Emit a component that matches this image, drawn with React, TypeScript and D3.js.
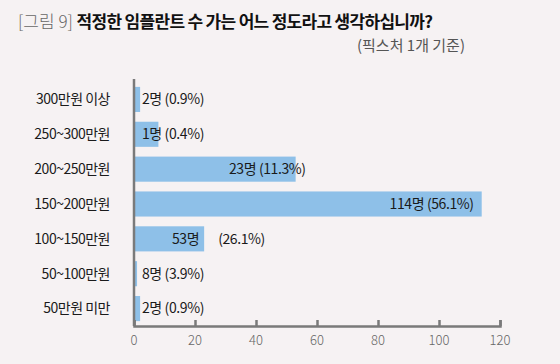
import { useEffect, useRef } from 'react';
import * as d3 from 'd3';

// categories top to bottom
const categories = ['300만원 이상', '250~300만원', '200~250만원', '150~200만원', '100~150만원', '50~100만원', '50만원 미만'];
// bar lengths as drawn in the figure
const barValues = [2, 8, 53, 114, 23, 1, 2];
// label texts as printed
const countLabels = ['2명', '1명', '23명', '114명', '53명', '8명', '2명'];
const pctLabels = ['(0.9%)', '(0.4%)', '(11.3%)', '(56.1%)', '(26.1%)', '(3.9%)', '(0.9%)'];
const xTicks = [0, 20, 40, 60, 80, 100, 120];

const W = 560;
const H = 364;
const FONT = '"Noto Sans CJK KR", "Noto Sans", sans-serif';

export default function App() {
    const ref = useRef<SVGSVGElement | null>(null);

    useEffect(() => {
        if (!ref.current) return;
        const svg = d3.select(ref.current);
        svg.selectAll('*').remove();

        svg.append('rect').attr('width', W).attr('height', H).attr('fill', '#f6f2f3');

        // title
        const title = svg.append('text').attr('x', 18).attr('y', 28).attr('font-family', FONT).attr('font-size', 17);
        title.append('tspan').attr('fill', '#666').attr('font-weight', 300).text('[그림 9] ');
        title
            .append('tspan')
            .attr('fill', '#111')
            .attr('font-weight', 700)
            .attr('letter-spacing', -0.7)
            .text('적정한 임플란트 수 가는 어느 정도라고 생각하십니까?');

        svg.append('text')
            .attr('x', 465)
            .attr('y', 51)
            .attr('text-anchor', 'end')
            .attr('font-family', FONT)
            .attr('font-size', 15)
            .attr('fill', '#555')
            .text('(픽스처 1개 기준)');

        const x = d3.scaleLinear().domain([0, 120]).range([134, 500]);
        const y = d3.scaleBand().domain(categories).range([82, 326]).paddingInner(0.28).paddingOuter(0.14);

        const g = svg.append('g').attr('font-family', FONT);

        g.selectAll('rect.bar')
            .data(barValues)
            .join('rect')
            .attr('class', 'bar')
            .attr('x', x(0))
            .attr('y', (_, i) => y(categories[i])!)
            .attr('width', d => x(d) - x(0))
            .attr('height', y.bandwidth())
            .attr('fill', '#8ec0e8');

        // category labels
        g.selectAll('text.cat')
            .data(categories)
            .join('text')
            .attr('class', 'cat')
            .attr('x', 110)
            .attr('y', d => y(d)! + y.bandwidth() / 2)
            .attr('dy', '0.35em')
            .attr('text-anchor', 'end')
            .attr('font-size', 14)
            .attr('letter-spacing', -0.5)
            .attr('fill', '#1a1a1a')
            .text(d => d);

        const valueText = (xPos: number, cy: number, anchor: string, txt: string) =>
            g
                .append('text')
                .attr('x', xPos)
                .attr('y', cy)
                .attr('dy', '0.35em')
                .attr('text-anchor', anchor)
                .attr('font-size', 14)
                .attr('letter-spacing', -0.4)
                .attr('fill', '#1a1a1a')
                .text(txt);

        // value labels
        barValues.forEach((v, i) => {
            const cy = y(categories[i])! + y.bandwidth() / 2;
            const full = `${countLabels[i]} ${pctLabels[i]}`;
            if (v >= 100) {
                valueText(x(v) - 8, cy, 'end', full);
            } else if (v >= 40) {
                valueText(x(v) + 10, cy, 'end', full);
            } else if (v >= 15) {
                valueText(x(v) - 5, cy, 'end', countLabels[i]);
                valueText(x(v) + 14, cy, 'start', pctLabels[i]);
            } else {
                valueText(x(0) + 8, cy, 'start', full);
            }
        });

        // axes
        const axisColor = '#7a7a7a';
        g.append('line')
            .attr('x1', x(0))
            .attr('x2', x(0))
            .attr('y1', 79)
            .attr('y2', 326)
            .attr('stroke', axisColor)
            .attr('stroke-width', 2.5);

        const xAxis = g
            .append('g')
            .attr('transform', 'translate(0,326)')
            .call(d3.axisTop(x).tickValues(xTicks).tickSize(6).tickFormat(() => ''));
        xAxis.select('.domain').attr('stroke', axisColor).attr('stroke-width', 2.5);
        xAxis.selectAll('.tick line').attr('stroke', axisColor).attr('stroke-width', 2.5);

        g.selectAll('text.tick-label')
            .data(xTicks)
            .join('text')
            .attr('class', 'tick-label')
            .attr('x', d => x(d))
            .attr('y', 345)
            .attr('text-anchor', 'middle')
            .attr('font-size', 13)
            .attr('font-weight', 300)
            .attr('fill', '#666')
            .text(d => d);
    }, []);

    return <svg ref={ref} width={W} height={H} style={{ position: 'fixed', left: 0, top: 0, display: 'block' }} />;
}
